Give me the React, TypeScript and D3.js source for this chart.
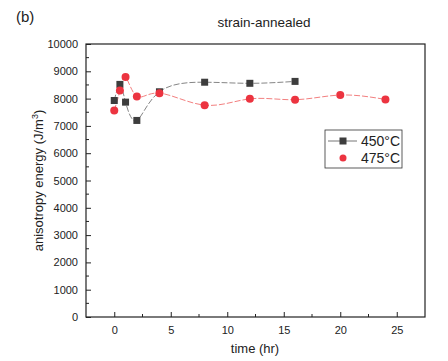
import React, { useEffect, useRef } from "react";
import * as d3 from "d3";

const hours450 = [0, 0.5, 1, 2, 4, 8, 12, 16];
const energy450 = [7930, 8520, 7870, 7200, 8250, 8600, 8560, 8630];
const hours475 = [0, 0.5, 1, 2, 4, 8, 12, 16, 20, 24];
const energy475 = [7560, 8300, 8790, 8080, 8200, 7760, 7990, 7960, 8130, 7970];
const xTicks = [0, 5, 10, 15, 20, 25];
const yTicks = [0, 1000, 2000, 3000, 4000, 5000, 6000, 7000, 8000, 9000, 10000];

const W = 448;
const H = 361;
const font = "'Liberation Sans', Arial, sans-serif";

const App: React.FC = () => {
  const svgRef = useRef<SVGSVGElement | null>(null);

  useEffect(() => {
    if (!svgRef.current) return;
    const svg = d3.select(svgRef.current);
    svg.selectAll("*").remove();

    const left = 86, right = 425, top = 44, bottom = 317;
    const x = d3.scaleLinear().domain([-2.5, 27.5]).range([left, right]);
    const y = d3.scaleLinear().domain([0, 10000]).range([bottom, top]);

    // labels
    svg.append("text").attr("x", 16).attr("y", 22).attr("font-size", 15)
      .attr("font-family", font).attr("fill", "#222").text("(b)");
    svg.append("text").attr("x", 264).attr("y", 27).attr("font-size", 13.5)
      .attr("font-family", font).attr("text-anchor", "middle").attr("fill", "#222")
      .text("strain-annealed");

    // frame
    svg.append("rect").attr("x", left).attr("y", top)
      .attr("width", right - left).attr("height", bottom - top)
      .attr("fill", "none").attr("stroke", "#222").attr("stroke-width", 1.2);

    // y axis
    const yAxis = d3.axisLeft(y).tickValues(yTicks).tickSize(-5).tickPadding(8)
      .tickFormat((d) => String(d));
    const gy = svg.append("g").attr("transform", `translate(${left},0)`).call(yAxis);
    gy.select(".domain").remove();
    gy.selectAll("text").attr("font-family", font).attr("font-size", 11).attr("fill", "#222");
    gy.selectAll("line").attr("stroke", "#222");
    const yMinor = d3.range(500, 10000, 1000);
    svg.append("g").selectAll("line").data(yMinor).join("line")
      .attr("x1", left).attr("x2", left + 3)
      .attr("y1", (d) => y(d)).attr("y2", (d) => y(d))
      .attr("stroke", "#222");

    // x axis
    const xAxis = d3.axisBottom(x).tickValues(xTicks).tickSize(-5).tickPadding(9)
      .tickFormat((d) => String(d));
    const gx = svg.append("g").attr("transform", `translate(0,${bottom})`).call(xAxis);
    gx.select(".domain").remove();
    gx.selectAll("text").attr("font-family", font).attr("font-size", 11).attr("fill", "#222");
    gx.selectAll("line").attr("stroke", "#222");
    const xMinor = d3.range(2.5, 27.5, 5);
    svg.append("g").selectAll("line").data(xMinor).join("line")
      .attr("x1", (d) => x(d)).attr("x2", (d) => x(d))
      .attr("y1", bottom).attr("y2", bottom - 3)
      .attr("stroke", "#222");

    svg.append("text").attr("x", 255).attr("y", 353).attr("font-size", 13)
      .attr("font-family", font).attr("text-anchor", "middle").attr("fill", "#222")
      .text("time (hr)");
    const yl = svg.append("text")
      .attr("transform", `translate(43,${(top + bottom) / 2}) rotate(-90)`)
      .attr("font-size", 13).attr("font-family", font)
      .attr("text-anchor", "middle").attr("fill", "#222");
    yl.append("tspan").text("anisotropy energy (J/m");
    yl.append("tspan").attr("font-size", 9).attr("dy", -5).text("3");
    yl.append("tspan").attr("dy", 5).text(")");

    const line = d3.line<[number, number]>()
      .x((d) => x(d[0])).y((d) => y(d[1]))
      .curve(d3.curveNatural);

    const d450 = hours450.map((h, i) => [h, energy450[i]] as [number, number]);
    const d475 = hours475.map((h, i) => [h, energy475[i]] as [number, number]);

    svg.append("path").attr("d", line(d450)).attr("fill", "none")
      .attr("stroke", "#777").attr("stroke-width", 0.9).attr("stroke-dasharray", "6 2");
    svg.append("path").attr("d", line(d475)).attr("fill", "none")
      .attr("stroke", "#f07070").attr("stroke-width", 0.9).attr("stroke-dasharray", "6 2");

    svg.append("g").selectAll("rect").data(d450).join("rect")
      .attr("x", (d) => x(d[0]) - 3.5).attr("y", (d) => y(d[1]) - 3.5)
      .attr("width", 7).attr("height", 7).attr("fill", "#3d3d3d");
    svg.append("g").selectAll("circle").data(d475).join("circle")
      .attr("cx", (d) => x(d[0])).attr("cy", (d) => y(d[1])).attr("r", 4)
      .attr("fill", "#ec3440");

    // legend
    const lg = svg.append("g");
    lg.append("rect").attr("x", 325).attr("y", 130).attr("width", 77).attr("height", 38)
      .attr("fill", "white").attr("stroke", "#333").attr("stroke-width", 0.8);
    lg.append("line").attr("x1", 328).attr("x2", 357).attr("y1", 141).attr("y2", 141)
      .attr("stroke", "#666").attr("stroke-width", 0.9);
    lg.append("rect").attr("x", 339.5).attr("y", 137.5).attr("width", 7).attr("height", 7)
      .attr("fill", "#3d3d3d");
    lg.append("circle").attr("cx", 343).attr("cy", 158).attr("r", 3.5).attr("fill", "#ec3440");
    lg.append("text").attr("x", 361).attr("y", 146).attr("font-size", 14)
      .attr("font-family", font).attr("fill", "#222").text("450°C");
    lg.append("text").attr("x", 361).attr("y", 163).attr("font-size", 14)
      .attr("font-family", font).attr("fill", "#222").text("475°C");
  }, []);

  return <svg ref={svgRef} width={W} height={H} style={{ position: "absolute", left: 0, top: 0, background: "white" }} />;
};

export default App;
